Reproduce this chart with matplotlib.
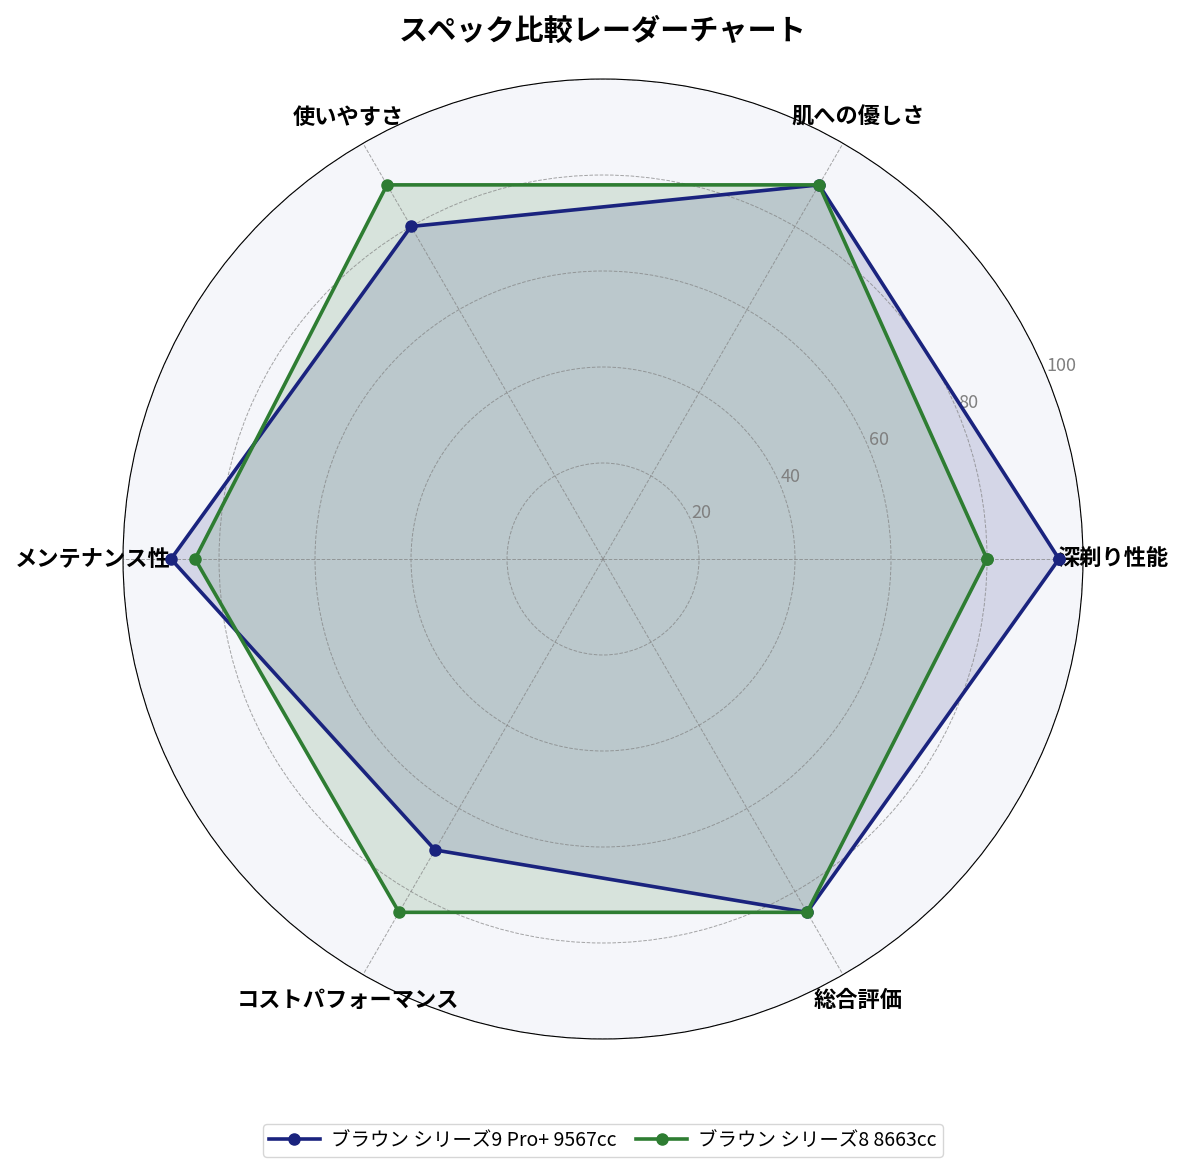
import numpy as np
import matplotlib
matplotlib.use("Agg")
import matplotlib.pyplot as plt

plt.rcParams['font.family'] = ['Noto Sans CJK JP', 'DejaVu Sans']

categories = ['深剃り性能', '肌への優しさ', '使いやすさ', 'メンテナンス性', 'コストパフォーマンス', '総合評価']
series_names = ['ブラウン シリーズ9 Pro+ 9567cc', 'ブラウン シリーズ8 8663cc']
series_values = [
    [95, 90, 80, 90, 70, 85],
    [80, 90, 90, 85, 85, 85],
]
colors = ['#1a237e', '#2e7d32']
r_ticks = [20, 40, 60, 80, 100]

n = len(categories)
angles = np.linspace(0, 2 * np.pi, n, endpoint=False).tolist()
angles_closed = angles + angles[:1]

fig = plt.figure(figsize=(11.84, 11.74), dpi=100)
ax = fig.add_axes([0.1039, 0.115, 0.8108, 0.8177], projection='polar')
ax.set_facecolor('#f5f6fa')

for name, vals, c in zip(series_names, series_values, colors):
    v = vals + vals[:1]
    ax.plot(angles_closed, v, color=c, linewidth=2.6, marker='o', markersize=8, label=name)
    ax.fill(angles_closed, v, color=c, alpha=0.15)

ax.set_ylim(0, 100)
ax.set_yticks(r_ticks)
ax.set_yticklabels([str(t) for t in r_ticks], color='grey', fontsize=13)
ax.set_rlabel_position(22.5)
ax.set_xticks(angles)
ax.set_xticklabels(categories, fontsize=16, fontweight='bold')
ax.tick_params(axis='x', pad=11)
ax.grid(True, color='grey', linestyle='--', linewidth=0.7, alpha=0.7)

fig.text(0.509, 0.974, 'スペック比較レーダーチャート', fontsize=21, fontweight='bold', ha='center', va='center')

ax.legend(loc='center', bbox_to_anchor=(0.5, -0.106), ncol=2, fontsize=14, frameon=True,
          edgecolor='#cccccc', handlelength=2.6, columnspacing=1.0, borderpad=0.3, handletextpad=0.6)

fig.savefig('out.png', dpi=100)
